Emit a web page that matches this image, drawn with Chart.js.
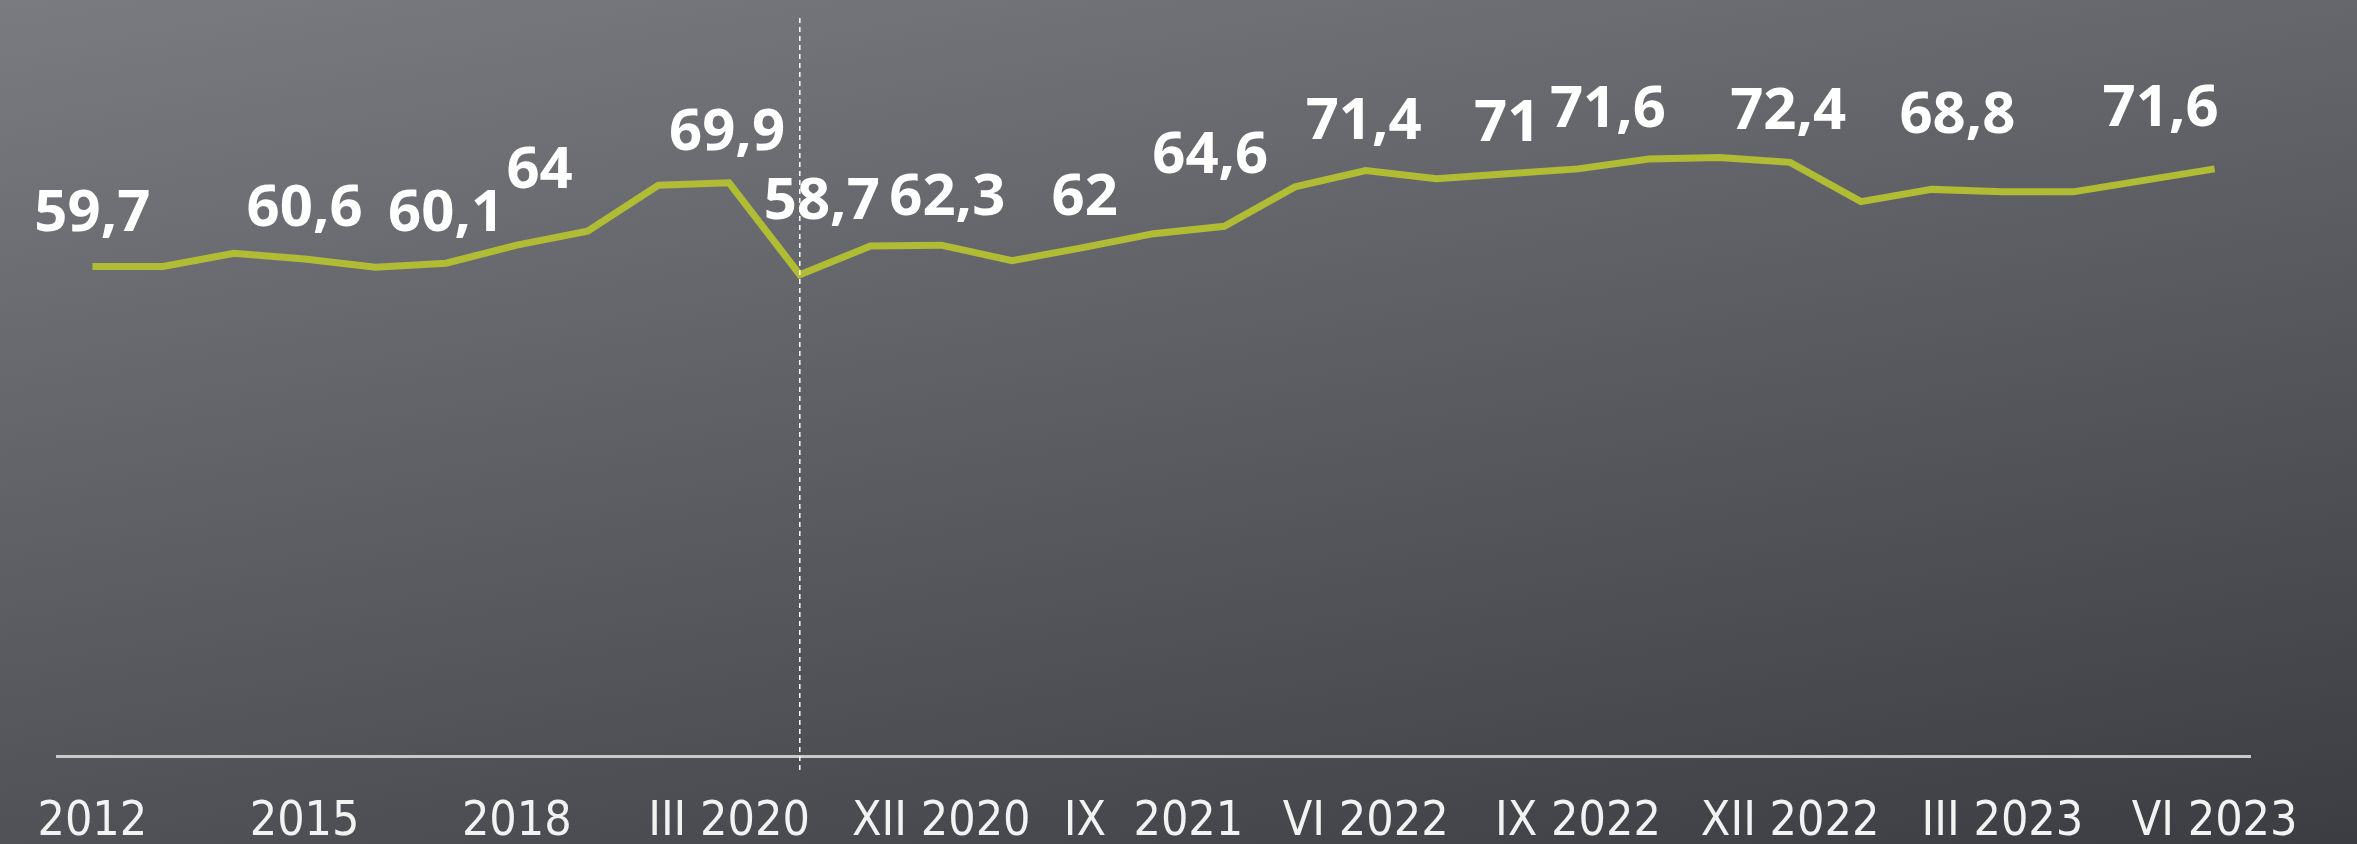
<!DOCTYPE html>
<html>
<head>
<meta charset="utf-8">
<script src="https://cdn.jsdelivr.net/npm/chart.js@4/dist/chart.umd.min.js"></script>
<style>
    html, body { margin: 0; padding: 0; }
    body {
        width: 2357px;
        height: 844px;
        overflow: hidden;
        background: linear-gradient(170deg, #7a7b80 0%, #3c3d42 100%);
    }
    #wrap { position: relative; width: 2357px; height: 844px; }
</style>
</head>
<body>
<div id="wrap"><canvas id="lineChart" width="2357" height="844"></canvas></div>
<script>
// Periods: yearly 2012-2019, then quarters, then months from VI 2022
const periods = [
    '2012', '2013', '2014', '2015', '2016', '2017', '2018', '2019', 'XII 2019',
    'III 2020', 'VI 2020', 'IX 2020', 'XII 2020', 'III 2021', 'VI 2021', 'IX  2021',
    'XII 2021', 'III 2022', 'VI 2022', 'VII 2022', 'VIII 2022', 'IX 2022', 'X 2022',
    'XI 2022', 'XII 2022', 'I 2023', 'II 2023', 'III 2023', 'IV 2023', 'V 2023', 'VI 2023'
];

const values = [
    59.7, 59.7, 61.3, 60.6, 59.6, 60.1, 62.3, 64.0, 69.6,
    69.9, 58.7, 62.2, 62.3, 60.4, 62.0, 63.7,
    64.6, 69.4, 71.4, 70.4, 71.0, 71.6, 72.8,
    73.0, 72.4, 67.6, 69.1, 68.8, 68.8, 70.2, 71.6
];

// points that carry a value label
const labelled = [0, 3, 5, 7, 9, 10, 12, 14, 16, 18, 20, 21, 24, 27, 30];
// label nudges from the point, [dx, dy]
const labelNudge = [
    [0, -35], [0, -33], [0, -32], [-48, -43], [-2, -33], [22, -56], [6, -30], [2, -33],
    [-14, -53], [-2, -32], [0, -33], [30, -42], [-2, -33], [-45, -59], [-54, -43]
];

const breakIndex = 10; // dashed separator

const overlay = {
    id: 'overlay',
    afterDatasetsDraw(chart) {
        const ctx = chart.ctx;
        const x = chart.scales.x;
        const area = chart.chartArea;
        const meta = chart.getDatasetMeta(0);

        // dashed separator
        const bx = x.getPixelForValue(breakIndex);
        ctx.save();
        ctx.strokeStyle = '#ffffff';
        ctx.lineWidth = 1.5;
        ctx.setLineDash([5, 4]);
        ctx.beginPath();
        ctx.moveTo(bx, area.top);
        ctx.lineTo(bx, area.bottom + 16);
        ctx.stroke();
        ctx.restore();

        // value labels
        ctx.save();
        ctx.fillStyle = '#ffffff';
        ctx.font = 'bold 58px "Open Sans", "Liberation Sans", sans-serif';
        ctx.textAlign = 'center';
        ctx.textBaseline = 'alphabetic';
        labelled.forEach((i, k) => {
            const pt = meta.data[i];
            const txt = String(values[i]).replace('.', ',');
            ctx.fillText(txt, pt.x + labelNudge[k][0], pt.y + labelNudge[k][1]);
        });
        ctx.restore();
    }
};

new Chart(document.getElementById('lineChart'), {
    type: 'line',
    data: {
        labels: periods,
        datasets: [{
            data: values,
            borderColor: '#b0bc34',
            borderWidth: 7,
            pointRadius: 0,
            tension: 0,
            fill: false
        }]
    },
    options: {
        responsive: false,
        animation: false,
        layout: {
            padding: { left: 57, right: 107, top: 18, bottom: -46 }
        },
        plugins: {
            legend: { display: false },
            tooltip: { enabled: false }
        },
        scales: {
            x: {
                offset: true,
                grid: { color: 'transparent', drawTicks: false },
                border: { display: true, color: '#c9c9c9', width: 3 },
                afterFit: function(scale) {
                    // labels may overhang the ends, keep the plot width fixed
                    scale.paddingLeft = 0;
                    scale.paddingRight = 0;
                },
                ticks: {
                    autoSkip: false,
                    maxRotation: 0,
                    padding: 43,
                    color: '#f2f2f2',
                    font: { family: '"DejaVu Sans", sans-serif', weight: 'condensed', size: 48, lineHeight: 1 },
                    callback: function(value, index) {
                        return index % 3 === 0 ? periods[index] : '';
                    }
                }
            },
            y: {
                display: false,
                min: 0,
                max: 90
            }
        }
    },
    plugins: [overlay]
});
</script>
</body>
</html>
